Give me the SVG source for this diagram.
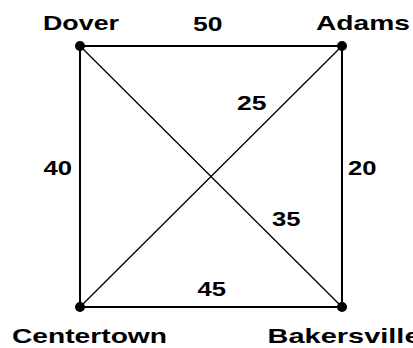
<svg xmlns="http://www.w3.org/2000/svg" width="413" height="348" viewBox="0 0 413 348">
<style>
.lbl{font-family:"Liberation Sans",Arial,sans-serif;font-weight:bold;font-size:21px;fill:#000}
.edge{stroke:#000;stroke-width:2;fill:none}
.diag{stroke:#000;stroke-width:1.3;fill:none}
.dot{fill:#000}
</style>
<rect width="413" height="348" fill="#fff"/>
<g id="connectors">
<line class="edge" x1="80" y1="46" x2="342" y2="46"/>
<line class="edge" x1="80" y1="46" x2="80" y2="307"/>
<line class="edge" x1="342" y1="46" x2="342" y2="307"/>
<line class="edge" x1="80" y1="307" x2="342" y2="307"/>
<line class="diag" x1="80" y1="46" x2="342" y2="307"/>
<line class="diag" x1="342" y1="46" x2="80" y2="307"/>
<text class="lbl" x="193" y="31" textLength="29.5" lengthAdjust="spacingAndGlyphs">50</text>
<text class="lbl" x="43.5" y="174.5" textLength="28.5" lengthAdjust="spacingAndGlyphs">40</text>
<text class="lbl" x="348" y="174.5" textLength="28.5" lengthAdjust="spacingAndGlyphs">20</text>
<text class="lbl" x="237" y="109.5" textLength="29.5" lengthAdjust="spacingAndGlyphs">25</text>
<text class="lbl" x="272" y="226" textLength="28.5" lengthAdjust="spacingAndGlyphs">35</text>
<text class="lbl" x="197.5" y="296" textLength="28.5" lengthAdjust="spacingAndGlyphs">45</text>
</g>
<g id="dover">
<circle class="dot" cx="80" cy="46" r="5"/>
<text class="lbl" x="43" y="30" textLength="76" lengthAdjust="spacingAndGlyphs">Dover</text>
</g>
<g id="adams">
<circle class="dot" cx="342" cy="46" r="5"/>
<text class="lbl" x="316" y="30" textLength="94" lengthAdjust="spacingAndGlyphs">Adams</text>
</g>
<g id="centertown">
<circle class="dot" cx="80" cy="307" r="5"/>
<text class="lbl" x="12" y="343" textLength="155" lengthAdjust="spacingAndGlyphs">Centertown</text>
</g>
<g id="bakersville">
<circle class="dot" cx="342" cy="307" r="5"/>
<text class="lbl" x="267.5" y="343" textLength="153" lengthAdjust="spacingAndGlyphs">Bakersville</text>
</g>
</svg>
